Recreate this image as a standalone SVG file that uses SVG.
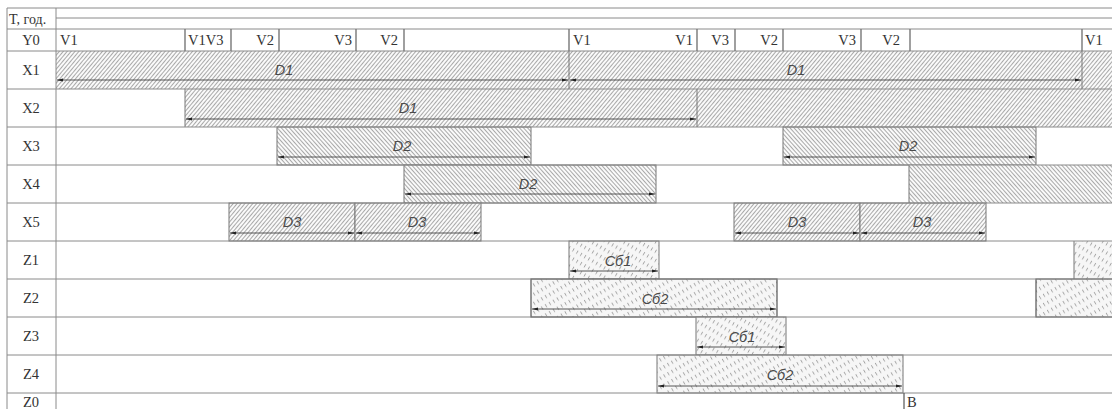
<svg xmlns="http://www.w3.org/2000/svg" width="1112" height="409" viewBox="0 0 1112 409">
<style>
.grid{stroke:#8a8a8a;stroke-width:1;fill:none}
.lbl{font-family:"Liberation Serif",serif;font-size:14.5px;fill:#333}
.hd{font-family:"Liberation Serif",serif;font-size:14px;fill:#333}
.bl{font-family:"Liberation Sans",sans-serif;font-style:italic;font-size:14.5px;fill:#4a4a4a;text-anchor:middle}
.bar{stroke:#777;stroke-width:1}
.dim{stroke:#444;stroke-width:0.9;fill:none;marker-start:url(#ar);marker-end:url(#ar)}
.fA{fill:url(#hA)}.fB{fill:url(#hB)}.fC{fill:url(#hC)}.fD{fill:url(#hD)}
</style>
<defs>
<pattern id="hA" width="3" height="8" patternUnits="userSpaceOnUse" patternTransform="rotate(40)"><rect width="3" height="8" fill="#fafafa"/><line x1="0.5" y1="0" x2="0.5" y2="8" stroke="#8e8e8e" stroke-width="0.75"/></pattern>
<pattern id="hB" width="3" height="8" patternUnits="userSpaceOnUse" patternTransform="rotate(-42)"><rect width="3" height="8" fill="#fafafa"/><line x1="0.5" y1="0" x2="0.5" y2="8" stroke="#8e8e8e" stroke-width="0.75"/></pattern>
<pattern id="hC" width="4.5" height="8" patternUnits="userSpaceOnUse" patternTransform="rotate(30)"><rect width="4.5" height="8" fill="#f6f6f6"/><line x1="0.5" y1="0" x2="0.5" y2="8" stroke="#8a8a8a" stroke-width="0.75" stroke-dasharray="3.5 4.5"/></pattern>
<pattern id="hD" width="4.5" height="8" patternUnits="userSpaceOnUse" patternTransform="rotate(-30)"><rect width="4.5" height="8" fill="#f6f6f6"/><line x1="0.5" y1="0" x2="0.5" y2="8" stroke="#8a8a8a" stroke-width="0.75" stroke-dasharray="3.5 4.5"/></pattern>
<marker id="ar" viewBox="0 0 6 4" refX="6" refY="2" markerWidth="6" markerHeight="4" markerUnits="userSpaceOnUse" orient="auto-start-reverse"><path d="M0,0.6 L6,2 L0,3.4 Z" fill="#222"/></marker>
</defs>
<rect width="1112" height="409" fill="#fff"/>

<g id="bars">
<g id="x1-bars"><rect class="fA" x="56" y="51" width="513" height="38"/><rect class="fA" x="569" y="51" width="513" height="38"/><rect class="fA" x="1082" y="51" width="30" height="38"/>
<line class="bar" x1="569" y1="51" x2="569" y2="89"/><line class="bar" x1="1082" y1="51" x2="1082" y2="89"/></g>
<g id="x2-bars"><rect class="fA" x="185" y="89" width="512" height="38"/><rect class="fA" x="697" y="89" width="415" height="38"/>
<line class="bar" x1="185" y1="89" x2="185" y2="127"/><line class="bar" x1="697" y1="89" x2="697" y2="127"/></g>
<g id="x3-bars"><rect class="fB bar" x="277" y="127" width="254" height="38"/><rect class="fB bar" x="783" y="127" width="253" height="38"/></g>
<g id="x4-bars"><rect class="fB bar" x="404" y="165" width="252" height="38"/><rect class="fB" x="909" y="165" width="203" height="38"/><line class="bar" x1="909" y1="165" x2="909" y2="203"/></g>
<g id="x5-bars"><rect class="fA bar" x="229" y="203" width="126" height="38"/><rect class="fA bar" x="355" y="203" width="126" height="38"/><rect class="fA bar" x="734" y="203" width="126" height="38"/><rect class="fA bar" x="860" y="203" width="126" height="38"/></g>
<g id="z1-bars"><rect class="fC bar" x="569" y="241" width="90" height="38"/><rect class="fC" x="1074" y="241" width="38" height="38"/><line class="bar" x1="1074" y1="241" x2="1074" y2="279"/></g>
<g id="z2-bars"><rect class="fD" x="531" y="279" width="246" height="38" stroke="#555" stroke-width="1.2"/><rect class="fD" x="1036" y="279" width="76" height="38"/><path d="M1112,279 H1036 V317 H1112" stroke="#555" stroke-width="1.2" fill="none"/></g>
<g id="z3-bars"><rect class="fC bar" x="696" y="317" width="90" height="38"/></g>
<g id="z4-bars"><rect class="fD bar" x="657" y="355" width="246" height="38"/></g>
</g>

<g id="table">
<line class="grid" x1="7" y1="8" x2="1112" y2="8"/>
<line class="grid" x1="56" y1="18" x2="1112" y2="18"/>
<line class="grid" x1="7" y1="29" x2="1112" y2="29"/>
<line class="grid" x1="7" y1="51" x2="1112" y2="51"/>
<line class="grid" x1="7" y1="89" x2="1112" y2="89"/>
<line class="grid" x1="7" y1="127" x2="1112" y2="127"/>
<line class="grid" x1="7" y1="165" x2="1112" y2="165"/>
<line class="grid" x1="7" y1="203" x2="1112" y2="203"/>
<line class="grid" x1="7" y1="241" x2="1112" y2="241"/>
<line class="grid" x1="7" y1="279" x2="1112" y2="279"/>
<line class="grid" x1="7" y1="317" x2="1112" y2="317"/>
<line class="grid" x1="7" y1="355" x2="1112" y2="355"/>
<line class="grid" x1="7" y1="393" x2="1112" y2="393"/>
<line class="grid" x1="7" y1="8" x2="7" y2="409"/>
<line class="grid" x1="56" y1="8" x2="56" y2="409" stroke-width="1.4"/>
</g>

<g id="row-labels">
<text class="hd" x="9" y="24">T, год.</text>
<text class="lbl" x="31" y="45" text-anchor="middle">Y0</text>
<text class="lbl" x="31" y="75" text-anchor="middle">X1</text>
<text class="lbl" x="31" y="113" text-anchor="middle">X2</text>
<text class="lbl" x="31" y="151" text-anchor="middle">X3</text>
<text class="lbl" x="31" y="189" text-anchor="middle">X4</text>
<text class="lbl" x="31" y="227" text-anchor="middle">X5</text>
<text class="lbl" x="31" y="265" text-anchor="middle">Z1</text>
<text class="lbl" x="31" y="303" text-anchor="middle">Z2</text>
<text class="lbl" x="31" y="341" text-anchor="middle">Z3</text>
<text class="lbl" x="31" y="379" text-anchor="middle">Z4</text>
<text class="lbl" x="31" y="407" text-anchor="middle">Z0</text>
</g>

<g id="y0-row">
<g stroke="#777" stroke-width="1.4">
<line x1="185" y1="29" x2="185" y2="51"/><line x1="231" y1="29" x2="231" y2="51"/><line x1="279" y1="29" x2="279" y2="51"/><line x1="356" y1="29" x2="356" y2="51"/><line x1="404" y1="29" x2="404" y2="51"/><line x1="569" y1="29" x2="569" y2="51"/><line x1="697" y1="29" x2="697" y2="51"/><line x1="735" y1="29" x2="735" y2="51"/><line x1="783" y1="29" x2="783" y2="51"/><line x1="861" y1="29" x2="861" y2="51"/><line x1="910" y1="29" x2="910" y2="51"/><line x1="1082" y1="29" x2="1082" y2="51"/>
</g>
<text class="lbl" x="60" y="45">V1</text>
<text class="lbl" x="188" y="45">V1V3</text>
<text class="lbl" x="274" y="45" text-anchor="end">V2</text>
<text class="lbl" x="352" y="45" text-anchor="end">V3</text>
<text class="lbl" x="398" y="45" text-anchor="end">V2</text>
<text class="lbl" x="573" y="45">V1</text>
<text class="lbl" x="693" y="45" text-anchor="end">V1</text>
<text class="lbl" x="729" y="45" text-anchor="end">V3</text>
<text class="lbl" x="778" y="45" text-anchor="end">V2</text>
<text class="lbl" x="856" y="45" text-anchor="end">V3</text>
<text class="lbl" x="900" y="45" text-anchor="end">V2</text>
<text class="lbl" x="1085" y="45">V1</text>
</g>

<g id="connectors">
<line class="dim" x1="57" y1="80" x2="568" y2="80"/>
<line class="dim" x1="570" y1="80" x2="1081" y2="80"/>
<line class="dim" x1="186" y1="119" x2="696" y2="119"/>
<line class="dim" x1="278" y1="157" x2="530" y2="157"/>
<line class="dim" x1="784" y1="157" x2="1035" y2="157"/>
<line class="dim" x1="405" y1="194" x2="655" y2="194"/>
<line class="dim" x1="230" y1="233" x2="354" y2="233"/>
<line class="dim" x1="356" y1="233" x2="480" y2="233"/>
<line class="dim" x1="735" y1="233" x2="859" y2="233"/>
<line class="dim" x1="861" y1="233" x2="985" y2="233"/>
<line class="dim" x1="570" y1="271" x2="658" y2="271"/>
<line class="dim" x1="532" y1="309" x2="776" y2="309"/>
<line class="dim" x1="697" y1="347" x2="785" y2="347"/>
<line class="dim" x1="658" y1="386" x2="902" y2="386"/>
</g>

<g id="bar-labels">
<text class="bl" x="284" y="75">D1</text>
<text class="bl" x="796" y="75">D1</text>
<text class="bl" x="408" y="113">D1</text>
<text class="bl" x="402" y="151">D2</text>
<text class="bl" x="908" y="151">D2</text>
<text class="bl" x="528" y="189">D2</text>
<text class="bl" x="292" y="227">D3</text>
<text class="bl" x="417" y="227">D3</text>
<text class="bl" x="797" y="227">D3</text>
<text class="bl" x="922" y="227">D3</text>
<text class="bl" x="618" y="266">Сб1</text>
<text class="bl" x="655" y="304">Сб2</text>
<text class="bl" x="742" y="342">Сб1</text>
<text class="bl" x="780" y="380">Сб2</text>
</g>

<g id="z0-mark">
<line x1="904" y1="393" x2="904" y2="409" stroke="#555" stroke-width="1.2"/>
<text class="lbl" x="907" y="407">B</text>
</g>
</svg>
